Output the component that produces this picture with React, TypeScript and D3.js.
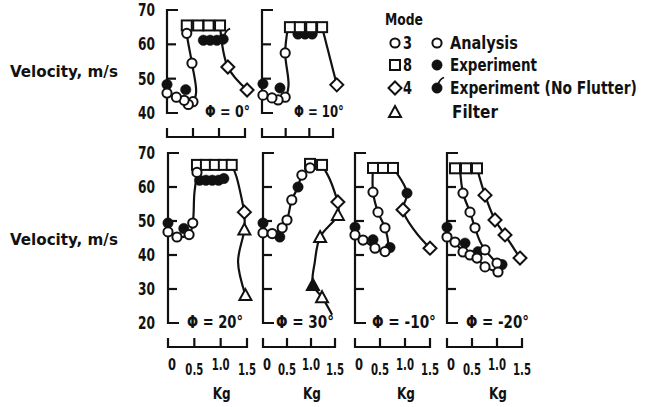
import * as d3 from 'd3'
import React, { useEffect, useRef } from 'react'

type Pt = [number, number]

// values: [Kg, velocity m/s]

// phi = 0 deg
const p0Mode8: Pt[] = [[0.38, 65.5], [0.6, 65.5], [0.8, 65.5], [1.02, 65.5]]
const p0Mode3: Pt[] = [[0.38, 63.2], [0.48, 54.5], [0.5, 43.3], [0.41, 42.5], [0.33, 43.7], [0.18, 44.6], [0, 45.8]]
const p0Mode3Line: Pt[] = [[0.38, 65.5], [0.38, 63.2], [0.48, 54.5], [0.56, 46], [0.5, 43.3], [0.41, 42.5], [0.33, 43.7], [0.18, 44.6], [0, 45.8]]
const p0Mode4: Pt[] = [[1.17, 53.4], [1.54, 46.7]]
const p0Mode4Line: Pt[] = [[1.02, 65.5], [1.17, 53.4], [1.54, 46.7]]
const p0Exp: Pt[] = [[0, 48.3], [0.36, 46.8], [0.7, 61.2], [0.83, 61.2], [0.96, 61.2]]
const p0NoFlutter: Pt[] = [[1.08, 61.5]]

// phi = 10 deg
const p10Mode8: Pt[] = [[0.59, 65], [0.8, 65], [1.04, 65], [1.27, 65]]
const p10Mode3: Pt[] = [[0.49, 57.5], [0.49, 44.6], [0.34, 43.8], [0.21, 44.4], [0.02, 45.2]]
const p10Mode3Line: Pt[] = [[0.55, 65], [0.49, 57.5], [0.56, 48], [0.49, 44.6], [0.34, 43.8], [0.21, 44.4], [0.02, 45.2]]
const p10Mode4: Pt[] = [[1.58, 48.2]]
const p10Mode4Line: Pt[] = [[1.27, 65], [1.58, 48.2]]
const p10Exp: Pt[] = [[0.02, 48.5], [0.38, 47.3]]
const p10NoFlutter: Pt[] = [[0.76, 63], [0.91, 63], [1.06, 63]]

// phi = 20 deg
const p20Mode8: Pt[] = [[0.55, 66.5], [0.72, 66.5], [0.89, 66.5], [1.06, 66.5], [1.21, 66.5]]
const p20Mode3: Pt[] = [[0.55, 64.3], [0.47, 49.4], [0.4, 46], [0.17, 45.3], [0, 46.8]]
const p20Mode3Line: Pt[] = [[0.55, 66.5], [0.55, 64.3], [0.5, 58], [0.47, 49.4], [0.4, 46], [0.17, 45.3], [0, 46.8]]
const p20Mode4: Pt[] = [[1.45, 52.6]]
const p20Mode4Line: Pt[] = [[1.21, 66.5], [1.3, 63], [1.45, 52.6]]
const p20Filter: Pt[] = [[1.45, 47.5], [1.47, 28.2]]
const p20FilterLine: Pt[] = [[1.45, 52.6], [1.45, 47.5], [1.33, 38], [1.47, 28.2]]
const p20Exp: Pt[] = [[0, 49.4], [0.3, 47.8], [0.6, 62], [0.72, 62], [0.84, 62], [0.96, 62], [1.06, 62.5]]

// phi = 30 deg
const p30Mode8: Pt[] = [[0.98, 66.8], [1.23, 66.5]]
const p30Mode3: Pt[] = [[0, 46.5], [0.19, 46.3], [0.4, 48], [0.5, 50.3], [0.6, 56.2], [0.81, 63.5], [0.98, 65.6]]
const p30Mode3Line: Pt[] = [[0, 46.5], [0.19, 46.3], [0.4, 48], [0.5, 50.3], [0.6, 56.2], [0.73, 60], [0.81, 63.5], [0.98, 65.6]]
const p30Mode4: Pt[] = [[1.56, 55.6]]
const p30Mode4Line: Pt[] = [[1.23, 66.5], [1.4, 62], [1.56, 55.6]]
const p30Filter: Pt[] = [[1.56, 51.8], [1.19, 45.3], [1.23, 27.6]]
const p30FilterExp: Pt[] = [[1.04, 31.2]]
const p30FilterLine: Pt[] = [[1.56, 55.6], [1.56, 51.8], [1.19, 45.3], [1.08, 38], [1.04, 31.2], [1.23, 27.6], [1.44, 22.4]]
const p30Exp: Pt[] = [[0, 49.4], [0.35, 45.3], [0.73, 60]]

// phi = -10 deg
const pm10Mode8: Pt[] = [[0.36, 65.6], [0.56, 65.6], [0.76, 65.6]]
const pm10Mode3: Pt[] = [[0.36, 58.5], [0.46, 52.6], [0.6, 48], [0.6, 41], [0.4, 42], [0.16, 44.4], [0, 45.9]]
const pm10Mode3Line: Pt[] = [[0.36, 65.6], [0.36, 58.5], [0.46, 52.6], [0.6, 48], [0.66, 43], [0.6, 41], [0.4, 42], [0.16, 44.4], [0, 45.9]]
const pm10Mode4: Pt[] = [[0.96, 53.3], [1.5, 42]]
const pm10Mode4Line: Pt[] = [[0.76, 65.6], [1.04, 58.2], [0.96, 53.3], [1.2, 47], [1.5, 42]]
const pm10Exp: Pt[] = [[0, 48.2], [0.36, 44.5], [0.7, 42.2], [1.04, 58.2]]

// phi = -20 deg
const pm20Mode8: Pt[] = [[0.16, 65.5], [0.38, 65.5], [0.6, 65.5]]
const pm20Mode3: Pt[] = [[0.32, 58.2], [0.46, 52.6], [0.56, 48], [0.76, 41.5], [1.0, 37.6], [0, 45.3], [0.16, 43.8], [0.32, 40.9], [0.46, 40], [0.6, 39.1], [0.76, 36.5], [1.02, 35]]
const pm20Mode3LineA: Pt[] = [[0.26, 65.5], [0.32, 58.2], [0.46, 52.6], [0.56, 48], [0.66, 44], [0.76, 41.5], [1.0, 37.6]]
const pm20Mode3LineB: Pt[] = [[0, 45.3], [0.16, 43.8], [0.32, 40.9], [0.46, 40], [0.6, 39.1], [0.76, 36.5], [1.02, 35]]
const pm20Mode4: Pt[] = [[0.76, 57.6], [0.96, 50.3], [1.16, 45.9], [1.46, 39.1]]
const pm20Mode4Line: Pt[] = [[0.6, 65.5], [0.76, 57.6], [0.96, 50.3], [1.16, 45.9], [1.46, 39.1]]
const pm20Exp: Pt[] = [[0, 48.2], [0.36, 43.5], [0.62, 41], [1.1, 37.2]]

const phiLabels = ['0°', '10°', '20°', '30°', '-10°', '-20°']
const xTicks = [0, 0.5, 1, 1.5]
const xTickLabels = ['0', '0.5', '1.0', '1.5']
const yTicksTop = [40, 50, 60, 70]
const yTicksBottom = [20, 30, 40, 50, 60, 70]
const modeLabels = ['3', '8', '4', '']
const typeLabels = ['Analysis', 'Experiment', 'Experiment (No Flutter)', 'Filter']

const FONT = "'DejaVu Sans Condensed', 'DejaVu Sans', sans-serif"

const rows = [
  { top: 10, bottom: 113, domain: [40, 70], ticks: yTicksTop, axisY: 137 },
  { top: 153, bottom: 323, domain: [20, 70], ticks: yTicksBottom, axisY: 347 },
]

const panels = [
  { row: 0, x0: 167, x1: 245, labelX: 205, labelW: 45, lines: [p0Mode3Line, p0Mode4Line], squares: p0Mode8, circles: p0Mode3, diamonds: p0Mode4, triangles: [], filled: p0Exp, noFlutter: p0NoFlutter, filledTri: [] },
  { row: 0, x0: 262, x1: 333, labelX: 294, labelW: 50, lines: [p10Mode3Line, p10Mode4Line], squares: p10Mode8, circles: p10Mode3, diamonds: p10Mode4, triangles: [], filled: p10Exp, noFlutter: p10NoFlutter, filledTri: [] },
  { row: 1, x0: 168, x1: 247, labelX: 187, labelW: 56, lines: [p20Mode3Line, p20Mode4Line, p20FilterLine], squares: p20Mode8, circles: p20Mode3, diamonds: p20Mode4, triangles: p20Filter, filled: p20Exp, noFlutter: [], filledTri: [] },
  { row: 1, x0: 263, x1: 335, labelX: 276, labelW: 58, lines: [p30Mode3Line, p30Mode4Line, p30FilterLine], squares: p30Mode8, circles: p30Mode3, diamonds: p30Mode4, triangles: p30Filter, filled: p30Exp, noFlutter: [], filledTri: p30FilterExp },
  { row: 1, x0: 355, x1: 430, labelX: 372, labelW: 64, lines: [pm10Mode3Line, pm10Mode4Line], squares: pm10Mode8, circles: pm10Mode3, diamonds: pm10Mode4, triangles: [], filled: pm10Exp, noFlutter: [], filledTri: [] },
  { row: 1, x0: 447, x1: 522, labelX: 466, labelW: 63, lines: [pm20Mode3LineA, pm20Mode3LineB, pm20Mode4Line], squares: pm20Mode8, circles: pm20Mode3, diamonds: pm20Mode4, triangles: [], filled: pm20Exp, noFlutter: [], filledTri: [] },
]

const diamondPath = 'M0,-6.5L6.5,0L0,6.5L-6.5,0Z'
const trianglePath = 'M0,-6L6,5L-6,5Z'
const flagPath = 'M1.5,-4.5Q3,-9 7,-10.5'

function drawMarkers(g: any, pts: Pt[], kind: string, x: any, y: any) {
  const sel = g.append('g')
  const stroke = '#111'
  if (kind === 'circle' || kind === 'filled' || kind === 'noFlutter') {
    sel.selectAll('circle').data(pts).enter().append('circle')
      .attr('cx', (d: Pt) => x(d[0])).attr('cy', (d: Pt) => y(d[1]))
      .attr('r', kind === 'circle' ? 4.6 : 5.2)
      .attr('fill', kind === 'circle' ? '#fff' : stroke)
      .attr('stroke', stroke).attr('stroke-width', kind === 'circle' ? 2 : 0.5)
    if (kind === 'noFlutter') {
      sel.selectAll('path').data(pts).enter().append('path')
        .attr('transform', (d: Pt) => `translate(${x(d[0])},${y(d[1])})`)
        .attr('d', flagPath).attr('fill', 'none').attr('stroke', stroke).attr('stroke-width', 1.8)
    }
  } else if (kind === 'square') {
    sel.selectAll('rect').data(pts).enter().append('rect')
      .attr('x', (d: Pt) => x(d[0]) - 5).attr('y', (d: Pt) => y(d[1]) - 5)
      .attr('width', 10).attr('height', 10)
      .attr('fill', '#fff').attr('stroke', stroke).attr('stroke-width', 2)
  } else {
    sel.selectAll('path').data(pts).enter().append('path')
      .attr('transform', (d: Pt) => `translate(${x(d[0])},${y(d[1])})`)
      .attr('d', kind === 'diamond' ? diamondPath : trianglePath)
      .attr('fill', kind === 'filledTri' ? stroke : '#fff')
      .attr('stroke', stroke).attr('stroke-width', 2).attr('stroke-linejoin', 'miter')
  }
}

// text squeezed horizontally to the narrow width of the original typeface
function label(g: any, x: number, y: number, size: number, width: number, text: string, anchor = 'start') {
  const t = g.append('text').attr('font-size', size).attr('text-anchor', anchor).text(text)
  const w = t.node().getComputedTextLength() || width
  t.attr('transform', `translate(${x},${y}) scale(${width / w},1)`)
  return t
}

export default function App() {
  const ref = useRef<SVGSVGElement>(null)

  useEffect(() => {
    const svg = d3.select(ref.current)
    svg.selectAll('*').remove()
    const ink = '#111'

    const root = svg.append('g')
      .style('font-family', FONT).style('font-weight', 'bold').attr('fill', ink)

    // y-axis titles and tick labels (only beside first column)
    rows.forEach((r, ri) => {
      const y = d3.scaleLinear().domain(r.domain).range([r.bottom, r.top])
      label(root, 10, ri === 0 ? 77 : 245, 16, 108, 'Velocity, m/s')
      r.ticks.forEach(t => label(root, 155, y(t) + 6, 17, 17, String(t), 'end'))
    })

    panels.forEach((p, i) => {
      const r = rows[p.row]
      const x = d3.scaleLinear().domain([0, 1.5]).range([p.x0, p.x1])
      const y = d3.scaleLinear().domain(r.domain).range([r.bottom, r.top])
      const g = root.append('g')

      // left bracket axis
      const ax = g.append('g').attr('stroke', ink).attr('stroke-width', 2.2).attr('fill', 'none')
      ax.append('path').attr('d', `M${p.x0 + 11},${y(r.domain[1])}H${p.x0}V${y(r.domain[0])}H${p.x0 + 11}`)
      ax.selectAll('line.yt').data(r.ticks.slice(1, -1)).enter().append('line')
        .attr('x1', p.x0).attr('x2', p.x0 + 9).attr('y1', d => y(d)).attr('y2', d => y(d))

      // bottom bracket axis
      ax.append('line').attr('x1', x(0)).attr('x2', x(1.5)).attr('y1', r.axisY).attr('y2', r.axisY)
      ax.selectAll('line.xt').data(xTicks).enter().append('line')
        .attr('x1', d => x(d)).attr('x2', d => x(d)).attr('y1', r.axisY + 1).attr('y2', r.axisY - 9)

      if (p.row === 1) {
        xTicks.forEach((t, j) => {
          label(g, x(t) + (j === 0 ? 4 : 0), r.axisY + (j % 2 === 0 ? 23 : 28), 16,
            j === 0 ? 8 : 18, xTickLabels[j], 'middle')
        })
        label(g, x(1) + 1, r.axisY + 52, 16, 18, 'Kg', 'middle')
      }

      label(g, p.labelX, p.row === 0 ? 117 : 328, p.row === 0 ? 15 : 17, p.labelW, 'Φ = ' + phiLabels[i])

      const line = d3.line<Pt>().x(d => x(d[0])).y(d => y(d[1])).curve(d3.curveCatmullRom.alpha(0.5))
      g.append('g').selectAll('path').data(p.lines).enter().append('path')
        .attr('d', d => line(d)).attr('fill', 'none').attr('stroke', ink).attr('stroke-width', 2.2)

      drawMarkers(g, p.filled, 'filled', x, y)
      drawMarkers(g, p.noFlutter, 'noFlutter', x, y)
      drawMarkers(g, p.filledTri as Pt[], 'filledTri', x, y)
      drawMarkers(g, p.squares, 'square', x, y)
      drawMarkers(g, p.circles, 'circle', x, y)
      drawMarkers(g, p.diamonds, 'diamond', x, y)
      drawMarkers(g, p.triangles as Pt[], 'triangle', x, y)
    })

    // legend
    const lg = root.append('g')
    label(lg, 385, 25, 16, 38, 'Mode')
    const rowY = [43, 65, 88, 112]
    const typeW = [68, 87, 187, 46]
    const modeKinds = ['circle', 'square', 'diamond', 'triangle']
    const typeKinds = ['circle', 'filled', 'noFlutter', '']
    const one = d3.scaleLinear().domain([0, 1]).range([0, 1])
    rowY.forEach((yy, j) => {
      drawMarkers(lg, [[395, yy]], modeKinds[j], one, one)
      if (typeKinds[j]) drawMarkers(lg, [[437, yy]], typeKinds[j], one, one)
      if (modeLabels[j]) label(lg, 403, yy + 6, 17, 9, modeLabels[j])
      label(lg, j === 3 ? 452 : 450, yy + 6, 17, typeW[j], typeLabels[j])
    })
  }, [])

  return (
    <svg ref={ref} width={646} height={407}
      style={{ position: 'absolute', left: 0, top: 0, background: '#fff' }} />
  )
}
